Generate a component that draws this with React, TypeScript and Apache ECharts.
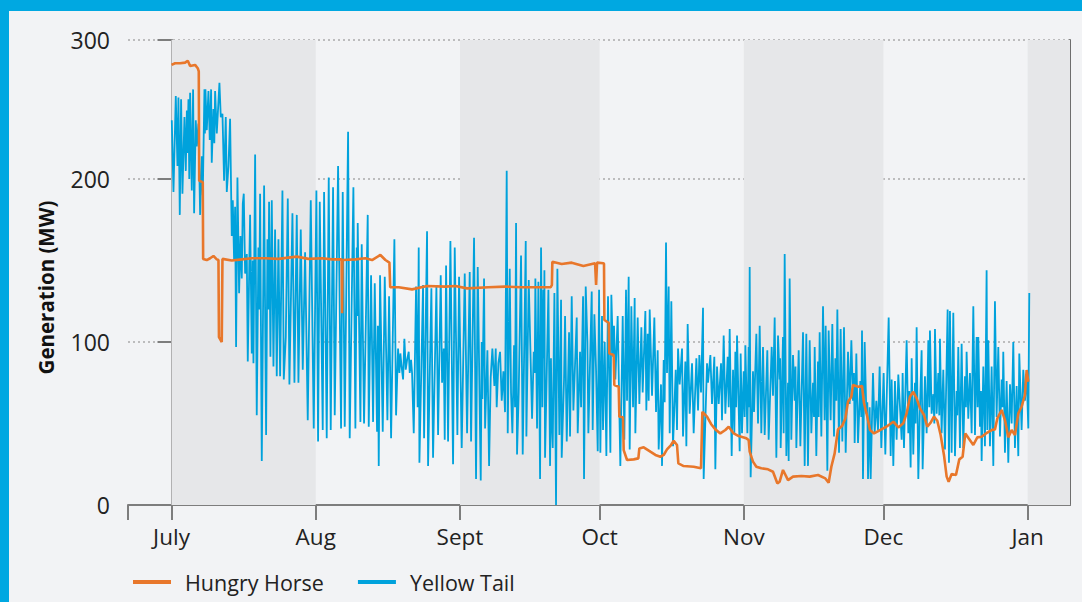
import React, { useEffect, useRef } from "react";
import * as echarts from "echarts";

// ---- axis / category data ----
const monthStarts = [0, 31, 62, 92, 123, 153, 184]; // days since July 1
const monthLabels = ["July", "Aug", "Sept", "Oct", "Nov", "Dec", "Jan"];
const axisStartDay = -9.35;
const axisEndDay = 193.1;
const shadedMonths: [number, number][] = [[0, 31], [62, 92], [123, 153], [184, 193.1]];
const yTickValues = [0, 100, 200, 285.3];
const yTickLabels = ["0", "100", "200", "300"];

// ---- Yellow Tail (MW) as [day since July 1, MW] ----
const ytJul: [number, number][] = [
  [0.06,236],[0.42,192],[0.92,251],[1.28,208],[1.49,250],[1.78,178],[2.06,249],[2.35,191],[2.78,238],[3.07,205],[3.3,242],[3.42,216],[3.64,249],[3.82,200],[4.0,253],[4.36,193],[4.64,255],[4.86,179],[5.22,236],[5.43,220],[5.79,234],[6.15,178],[6.5,214],[6.72,190],[7.08,255],[7.18,228],[7.29,255],[7.58,230],[7.94,254],[8.22,224],[8.51,255],[8.65,210],[9.01,243],[9.2,222],[9.37,254],[9.73,228],[10.3,259],[10.59,238],[10.95,240],[11.3,199],[11.66,238],[11.88,192],[12.24,208],[12.59,237],[12.95,165],[13.17,187],[13.45,150],[13.67,183],[13.88,97],[14.17,201],[14.53,130],[14.81,165],[15.1,139],[15.32,185],[15.53,191],[15.82,142],[16.18,154],[16.39,88],[16.89,178],[17.25,93],[17.45,150],[17.61,87],[17.97,215],[18.32,55],[18.68,158],[18.85,120],[19.04,191],[19.4,27],[19.9,196],[20.33,43],[20.62,163],[20.8,120],[20.97,186],[21.26,91],[21.55,187],[21.91,85],[22.26,169],[22.62,79],[22.98,163],[23.34,79],[23.84,193],[24.13,77],[24.56,103],[24.99,188],[25.34,74],[25.99,179],[26.42,75],[26.92,178],[27.28,75],[27.78,169],[28.21,83],[28.71,155],[29.28,52],[29.93,187],[30.57,47]
];
const ytAug: [number, number][] = [
  [31.14,193],[31.5,39],[31.86,186],[32.5,46],[32.79,192],[33.36,41],[33.79,201],[34.22,46],[34.72,195],[35.08,55],[35.8,208],[36.44,47],[36.8,192],[37.23,48],[37.95,229],[38.3,41],[39.09,195],[39.52,47],[39.81,158],[39.9,116],[40.02,173],[40.6,51],[40.88,160],[41.38,50],[42.17,178],[42.39,48],[42.89,141],[43.32,51],[43.68,136],[44.18,45],[44.35,110],[44.54,24],[44.82,141],[45.4,45],[45.83,140],[46.4,52],[46.76,128],[47.19,41],[47.9,163],[48.26,55],[48.69,96],[48.98,81],[49.19,93],[49.41,86],[49.77,77],[50.05,102],[50.34,83],[50.63,89],[50.98,94],[51.2,81],[51.48,89],[51.7,81],[52.06,44],[52.56,134],[52.9,60],[53.13,158],[53.28,26],[54.06,135],[54.28,41],[54.92,168],[55.14,24],[55.85,133],[56.21,29],[56.93,134],[57.29,43],[57.86,141],[58.15,75],[58.5,96],[58.72,40],[59.01,147],[59.44,39],[59.94,162],[60.51,25],[60.87,158],[61.44,43],[61.8,140]
];
const ytSep: [number, number][] = [
  [62.37,35],[63.02,142],[63.52,44],[64.09,143],[64.38,39],[65.02,164],[65.45,16],[65.81,146],[66.46,15],[66.67,100],[66.81,65],[67.17,139],[67.39,47],[67.89,95],[68.25,24],[68.6,78],[68.96,96],[69.39,73],[69.68,96],[69.89,60],[70.25,87],[70.61,94],[70.97,64],[71.33,82],[71.68,57],[72.04,205],[72.26,44],[72.69,145],[72.97,69],[73.26,44],[73.62,98],[73.83,60],[74.05,173],[74.26,31],[74.62,69],[75.12,153],[75.48,31],[76.13,162],[76.27,42],[76.77,138],[77.49,53],[77.85,94],[78.06,81],[78.2,139],[78.56,47],[78.85,137],[79.21,16],[79.42,158],[79.71,60],[79.92,132],[80.05,90],[80.14,144],[80.28,29],[81.0,132],[81.36,24],[81.55,90],[81.71,52],[81.93,35],[82.29,130],[82.64,0],[82.93,145],[83.36,43],[83.72,126],[83.86,29],[84.36,77],[84.58,116],[84.94,39],[85.44,106],[85.65,42],[86.01,128],[86.37,58],[87.09,115],[87.3,44],[87.8,94],[88.02,60],[88.45,128],[88.66,16],[89.02,134],[89.38,100],[89.59,44],[90.31,131],[90.52,46],[90.88,117],[91.24,83],[91.6,33],[91.89,132],[92.17,32]
];
const ytOct: [number, number][] = [
  [92.52,116],[92.74,46],[93.1,100],[93.46,30],[93.81,128],[94.32,32],[94.53,129],[94.89,91],[95.1,110],[95.39,77],[95.89,116],[96.46,24],[96.97,116],[97.32,40],[97.68,132],[97.9,64],[98.25,140],[98.47,34],[98.83,122],[99.19,60],[99.54,127],[99.69,44],[100.19,115],[100.55,62],[100.98,109],[101.26,69],[101.84,119],[102.05,58],[102.34,105],[102.55,64],[102.77,120],[103.27,67],[103.77,115],[104.13,57],[104.49,95],[104.7,34],[105.2,74],[105.42,24],[105.78,89],[105.99,63],[106.28,161],[106.49,81],[106.85,134],[107.07,44],[107.42,125],[107.78,36],[108.36,83],[108.64,46],[108.86,96],[109.21,74],[109.72,96],[109.93,42],[110.43,88],[110.65,36],[110.93,111],[111.36,56],[111.87,87],[112.22,44],[112.8,90],[113.16,58],[113.44,92],[113.8,69],[114.23,121],[114.37,16],[115.09,87],[115.3,75],[115.81,92],[116.16,62],[116.66,91],[116.88,22],[117.24,85],[117.6,62],[118.1,87],[118.31,52],[118.67,104],[119.03,56],[119.53,91],[119.75,60],[119.96,108],[120.39,30],[120.68,83],[120.96,44],[121.18,94],[121.35,60],[121.54,104]
];
const ytNov: [number, number][] = [
  [122.11,33],[122.32,93],[122.61,44],[122.97,82],[123.18,54],[123.33,98],[123.76,44],[124.04,97],[124.15,60],[124.26,146],[124.47,17],[124.97,82],[125.19,57],[125.69,105],[126.05,50],[126.41,110],[126.76,44],[127.12,97],[127.48,43],[128.05,95],[128.34,40],[128.99,97],[129.27,67],[129.63,115],[129.99,29],[130.35,104],[130.7,77],[130.8,90],[130.92,35],[131.42,103],[131.56,44],[131.78,154],[132.14,30],[132.5,75],[132.64,27],[132.85,139],[133.21,40],[133.57,92],[133.93,64],[134.1,85],[134.29,35],[134.79,95],[135.15,36],[135.72,106],[136.08,24],[136.43,105],[136.79,24],[137.15,101],[137.51,44],[137.87,75],[138.08,54],[138.23,97],[138.58,30],[138.94,88],[139.09,54],[139.3,106],[139.66,42],[140.02,122],[140.37,52],[140.59,110],[140.95,21],[141.23,107],[141.66,52],[142.02,111],[142.38,42],[142.67,90],[142.88,64],[143.1,120],[143.46,32],[143.81,108],[144.17,39],[144.53,109],[144.89,32],[145.39,94],[145.75,62],[146.11,101],[146.46,64],[146.68,81],[146.82,38],[147.18,93],[147.54,38],[148.04,76],[148.25,54],[148.4,107],[148.61,16],[148.97,100],[149.33,56],[149.54,63],[149.69,16],[150.05,60],[150.26,16],[150.76,81],[151.12,44],[151.48,64],[151.84,46],[152.19,85],[152.55,35]
];
const ytDec: [number, number][] = [
  [153.05,81],[153.41,31],[154.13,115],[154.56,30],[154.77,77],[155.13,24],[155.48,76],[155.84,40],[156.2,80],[156.92,40],[157.13,81],[157.42,35],[157.99,101],[158.35,44],[158.56,70],[158.85,23],[159.07,90],[159.42,31],[159.78,75],[159.92,50],[160.14,109],[160.5,16],[160.86,60],[161.21,95],[161.43,22],[161.93,79],[162.29,44],[162.65,101],[162.86,60],[163.0,107],[163.36,56],[163.72,68],[163.94,50],[164.08,108],[164.44,56],[164.8,81],[165.01,55],[165.15,102],[165.51,44],[165.87,83],[166.23,34],[166.8,120],[167.09,26],[167.3,119],[167.66,32],[168.02,118],[168.38,30],[168.74,70],[168.88,55],[169.09,97],[169.45,35],[169.81,99],[170.17,35],[170.53,79],[170.74,60],[170.88,94],[171.24,53],[171.6,81],[171.96,44],[172.32,122],[172.68,43],[173.03,103],[173.25,60],[173.39,103],[173.75,48],[173.97,70],[174.11,27],[174.47,85],[174.82,36],[175.18,144],[175.33,46],[175.54,101],[175.9,36],[176.26,85],[176.62,24],[176.97,125],[177.33,54],[177.69,97],[178.05,42],[178.41,77],[178.62,60],[178.76,94],[179.12,32],[179.48,76],[179.84,26],[180.2,74],[180.56,50],[180.91,100],[181.27,35],[181.63,73],[181.99,30],[182.2,93],[182.7,46],[183.06,83],[183.42,64],[183.78,80],[184.14,47],[184.35,130]
];

// ---- Hungry Horse (MW) as [day since July 1, MW] ----
const hhJul: [number, number][] = [
  [0,270],[0.77,271],[1.85,271],[2.92,271.4],[3.5,272.6],[4.0,269.3],[5.07,270],[5.64,268],[5.86,266],[5.95,199],[6.72,198],[6.8,151],[7.58,150.3],[8.3,151.4],[9.01,152.8],[9.73,150.7],[10.09,150.3],[10.2,103],[10.8,100],[10.95,151],[12.95,150],[15.1,150.7],[17.25,151.4],[20.12,151.4],[22.98,151],[26.92,152.4],[29.43,151]
];
const hhAug: [number, number][] = [
  [32.36,151.4],[34.51,150.7],[36.55,150.7],[36.66,117.6],[36.75,150.3],[39.52,150.7],[41.67,151.4],[43.1,150.3],[44.89,153.4],[45.97,150.3],[46.83,148.7],[47.0,133.6],[48.83,133.6],[51.7,132.3],[54.92,134.4],[58.86,134],[61.01,134.4]
];
const hhSep: [number, number][] = [
  [63.52,132.9],[68.1,133.6],[71.68,134],[75.27,133.6],[78.85,133.6],[81.5,133.6],[81.75,135],[81.85,149.3],[83.86,147.9],[86.01,148.7],[88.52,146.6],[91.03,148.3],[91.25,135],[91.45,148.7],[92.82,148.3]
];
const hhOct: [number, number][] = [
  [92.95,148],[93.03,113.5],[93.96,111.8],[94.1,93],[95.03,92],[95.17,73.6],[96.11,72.6],[96.25,54.2],[97.04,53.8],[97.18,33.7],[97.9,27.6],[99.33,28],[100.33,28.6],[100.55,34.7],[101.48,35.4],[102.91,32.7],[103.99,30.7],[105.06,29.6],[105.78,30.7],[106.49,34.1],[107.35,36.8],[107.93,39.4],[108.64,36.8],[108.93,25.5],[110.07,23.9],[112.22,23.5],[113.8,22.5],[114.09,57.2],[115.09,54.2],[115.95,49.7],[116.88,46.4],[117.95,43.9],[119.03,46],[119.75,48],[120.82,43.9],[121.9,42.3]
];
const hhNov: [number, number][] = [
  [123.54,40.9],[124.04,39.9],[124.26,32.7],[124.97,26.6],[125.69,23.5],[126.76,22.5],[128.2,21.9],[129.27,20.4],[130.2,13.3],[130.7,14.3],[131.42,21.5],[132.5,15.3],[133.57,17.4],[135.36,17.8],[137.15,17.4],[138.94,18.4],[140.52,16.3],[141.23,13.7],[141.81,23.5],[142.52,31.7],[143.24,46.4],[144.1,48.4],[144.82,53.1],[145.39,63.4],[146.11,66.4],[146.46,73.6],[147.54,72.6],[148.4,73],[148.83,62.4],[149.54,54.2],[150.12,46],[150.98,43.9],[151.69,45],[152.55,46.4]
];
const hhDec: [number, number][] = [
  [153.63,48],[155.13,51.1],[156.2,47.6],[157.27,50.1],[157.99,56.2],[158.71,66.4],[159.42,69.5],[160.14,65.4],[160.86,59.3],[161.72,55.2],[162.43,48],[163.15,50.5],[163.86,54.2],[164.58,51.7],[165.3,42.9],[166.01,30.7],[166.59,17.4],[167.02,14.3],[167.66,19],[168.59,18.4],[169.31,28],[170.02,29.6],[170.6,43.9],[171.31,40.9],[172.32,36.8],[173.18,41.5],[174.11,41.9],[175.04,43.9],[176.26,46],[176.97,46.4],[177.48,53.1],[178.41,58.3],[179.12,52.1],[179.84,41.5],[180.56,46],[181.27,42.9],[181.99,56.2],[182.7,60.3],[183.42,67.5],[183.78,82.8],[184.14,75.6]
];

const yellowTail = [...ytJul, ...ytAug, ...ytSep, ...ytOct, ...ytNov, ...ytDec];
const hungryHorse = [...hhJul, ...hhAug, ...hhSep, ...hhOct, ...hhNov, ...hhDec];

const FONT = "Open Sans";
const AXIS_GRAY = "#7d7d7d";
const BLUE = "#00a2dc";
const ORANGE = "#e8772b";

export default function App() {
  const ref = useRef<HTMLDivElement>(null);
  useEffect(() => {
    document.body.style.margin = "0";
    const chart = echarts.init(ref.current!, null, { renderer: "svg" });
    chart.setOption({
      animation: false,
      backgroundColor: "#f2f3f5",
      textStyle: { fontFamily: FONT },
      grid: { left: 119, right: 12, top: 29, bottom: 97, containLabel: false },
      legend: {
        data: ["Hungry Horse", "Yellow Tail"],
        left: 119,
        top: 555,
        icon: "rect",
        itemWidth: 38,
        itemHeight: 4,
        itemGap: 34,
        textStyle: { fontSize: 21.5, color: "#222", fontFamily: FONT, padding: [0, 0, 0, 9] },
      },
      xAxis: {
        type: "value",
        min: axisStartDay,
        max: axisEndDay,
        axisLine: { show: true, onZero: false, lineStyle: { color: AXIS_GRAY, width: 2 } },
        axisTick: {
          show: true,
          length: 15,
          lineStyle: { color: AXIS_GRAY, width: 2 },
          customValues: [axisStartDay, ...monthStarts],
        },
        axisLabel: {
          customValues: monthStarts,
          formatter: (v: number) => {
            const i = monthStarts.indexOf(Math.round(v));
            return i >= 0 ? monthLabels[i] : "";
          },
          fontSize: 22.5,
          color: "#222",
          fontFamily: FONT,
          margin: 20,
        },
        splitLine: { show: false },
      },
      yAxis: [
        {
          type: "value",
          min: 0,
          max: 285.3,
          interval: 100,
          name: "Generation (MW)",
          nameLocation: "middle",
          nameGap: 72,
          nameTextStyle: { fontSize: 20.5, fontWeight: "bold", color: "#111", fontFamily: FONT, padding: [0, 30, 0, 0] },
          axisLine: { show: true, lineStyle: { color: AXIS_GRAY, width: 2 } },
          axisTick: { show: true, length: 14, lineStyle: { color: AXIS_GRAY, width: 2 }, customValues: yTickValues },
          axisLabel: {
            customValues: yTickValues,
            formatter: (v: number) => {
              const i = yTickValues.findIndex((t) => Math.abs(t - v) < 0.5);
              return i >= 0 ? yTickLabels[i] : "";
            },
            fontSize: 23,
            color: "#222",
            fontFamily: FONT,
            margin: 18,
          },
          splitLine: { show: true, lineStyle: { color: "#aaaaaa", width: 1.5, type: [2, 3] } },
        },
        {
          type: "value",
          position: "right",
          min: 0,
          max: 285.3,
          interval: 100,
          axisLine: { show: true, lineStyle: { color: "#6e6e6e", width: 2 } },
          axisTick: { show: false },
          axisLabel: { show: false },
          splitLine: { show: false },
        },
      ],
      series: [
        {
          name: "bands",
          type: "line",
          data: [],
          silent: true,
          z: 0,
          markArea: {
            silent: true,
            itemStyle: { color: "#e6e7e9" },
            data: shadedMonths.map(([a, b]) => [{ xAxis: a }, { xAxis: b }]),
          },
        },
        {
          name: "Yellow Tail",
          type: "line",
          data: yellowTail,
          symbol: "none",
          showSymbol: false,
          lineStyle: { color: BLUE, width: 1.8 },
          itemStyle: { color: BLUE },
          z: 2,
        },
        {
          name: "Hungry Horse",
          type: "line",
          data: hungryHorse,
          symbol: "none",
          showSymbol: false,
          lineStyle: { color: ORANGE, width: 2.6 },
          itemStyle: { color: ORANGE },
          z: 3,
        },
      ],
    });
    return () => chart.dispose();
  }, []);
  return (
    <div
      style={{
        position: "fixed",
        left: 0,
        top: 0,
        width: 1082,
        height: 602,
        boxSizing: "border-box",
        borderTop: "11px solid #00a8e1",
        borderLeft: "9px solid #00a8e1",
        background: "#f2f3f5",
      }}
    >
      <div ref={ref} style={{ width: 1073, height: 591 }} />
    </div>
  );
}
